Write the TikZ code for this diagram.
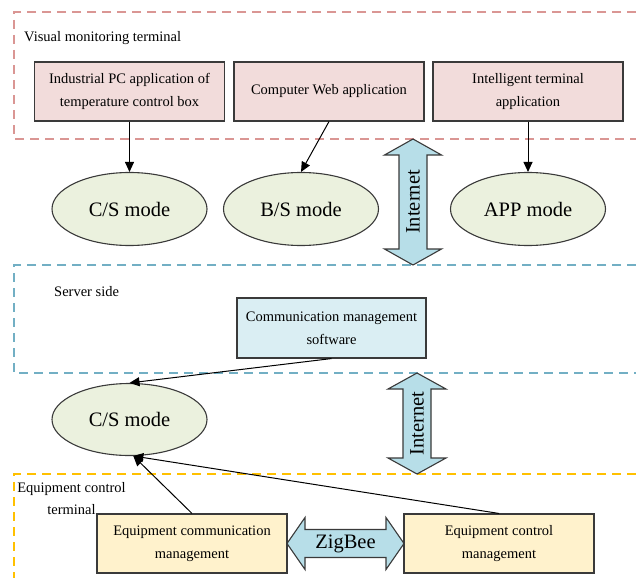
\documentclass[tikz,border=0pt]{standalone}
\usepackage{fontspec}
\setmainfont{Liberation Serif}
\usepackage{tikz}
\usetikzlibrary{shapes,arrows.meta}

\definecolor{redline}{HTML}{DA9694}
\definecolor{blueline}{HTML}{72AFC4}
\definecolor{orangeline}{HTML}{FFC000}
\definecolor{pinkfill}{HTML}{F2DCDB}
\definecolor{greenfill}{HTML}{EBF1DE}
\definecolor{bluefill}{HTML}{DAEEF3}
\definecolor{arrowfill}{HTML}{B7DEE8}
\definecolor{yellowfill}{HTML}{FFF2CC}
\definecolor{edge}{HTML}{3A3A3A}

\tikzset{
  zone/.style={dash pattern=on 9pt off 6pt, line width=1.3pt},
  appbox/.style={draw=edge, line width=1.1pt, minimum height=59pt, minimum width=190pt, align=center, inner sep=0pt, font=\fontsize{14.5}{23}\selectfont},
  modeell/.style={draw=edge, line width=1.1pt, ellipse, fill=greenfill, inner sep=0pt, minimum width=155pt, minimum height=73pt, font=\fontsize{20.5}{24}\selectfont},
  bigarrow/.style={draw=edge, line width=1.1pt, fill=arrowfill},
  bigtext/.style={inner sep=0pt, font=\fontsize{20.5}{24}\selectfont},
  zonetext/.style={inner sep=0pt, align=center, font=\fontsize{14.5}{22}\selectfont},
  link/.style={draw=black, line width=1pt, -{Triangle[length=10pt,width=9pt]}}
}

\begin{document}
\begin{tikzpicture}[x=1pt, y=-1pt]
  \useasboundingbox (0,0) rectangle (636,578);

  % zones
  \draw[zone, redline] (636,12) -- (14,12) -- (14,139) -- (636,139);
  \draw[zone, blueline] (636,265) -- (14,265) -- (14,373) -- (636,373);
  \draw[zone, orangeline] (636,474) -- (14,474) -- (14,578);

  \node[zonetext, anchor=west] (vislabel) at (24,38) {Visual monitoring terminal};
  \node[zonetext, anchor=west] (srvlabel) at (54,292) {Server side};
  \node[zonetext] (eqlabel) at (71.5,499) {Equipment control\\terminal};

  % visual monitoring terminal
  \node[appbox, fill=pinkfill] (ipc) at (129.5,91.5) {Industrial PC application of\\temperature control box};
  \node[appbox, fill=pinkfill] (web) at (329,91.5) {Computer Web application};
  \node[appbox, fill=pinkfill] (intel) at (528,91.5) {Intelligent terminal\\application};

  \node[modeell] (cs1) at (129.5,209) {C/S mode};
  \node[modeell] (bs) at (301,209) {B/S mode};
  \node[modeell] (app) at (528,209) {APP mode};

  \draw[link] (ipc.south) -- (cs1.north);
  \draw[link] (web.south) -- (bs.north);
  \draw[link] (intel.south) -- (app.north);

  % internet (upper)
  \draw[bigarrow] (413,139) -- (441.5,155) -- (427,155) -- (427,249) -- (441.5,249) -- (413,265)
    -- (384.5,249) -- (399,249) -- (399,155) -- (384.5,155) -- cycle;
  \node[bigtext, rotate=90] (net1) at (413,202) {Internet};

  % server side
  \node[appbox, fill=bluefill, minimum height=60pt, minimum width=189pt] (comm) at (331.5,328) {Communication management\\software};
  \node[modeell, minimum height=72pt] (cs2) at (129.5,419.5) {C/S mode};
  \draw[link] (comm.south) -- (cs2.north);

  % internet (lower)
  \draw[bigarrow] (417,373) -- (446,389) -- (431,389) -- (431,458) -- (446,458) -- (417,474)
    -- (388,458) -- (403,458) -- (403,389) -- (388,389) -- cycle;
  \node[bigtext, rotate=90] (net2) at (417,423.5) {Internet};

  % equipment control terminal
  \node[appbox, fill=yellowfill] (eqcomm) at (192,543.5) {Equipment communication\\management};
  \node[appbox, fill=yellowfill] (eqctrl) at (499,543.5) {Equipment control\\management};

  \draw[bigarrow] (287,543.5) -- (305,517.5) -- (305,529.5) -- (386,529.5) -- (386,517.5) -- (404,543.5)
    -- (386,569.5) -- (386,557.5) -- (305,557.5) -- (305,569.5) -- cycle;
  \node[bigtext] (zigbee) at (345.5,543.5) {ZigBee};

  \draw[link] (eqcomm.north) -- (cs2.-84);
  \draw[link] (eqctrl.north) -- (cs2.-84);
\end{tikzpicture}
\end{document}
